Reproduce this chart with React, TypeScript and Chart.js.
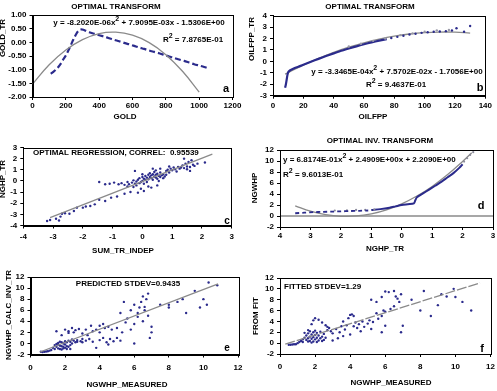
import React, { useEffect, useRef } from "react";
import { Chart, registerables } from "chart.js";

Chart.register(...registerables);

const W = 497;
const H = 391;
const FONT = "'Liberation Sans', Arial, Helvetica, sans-serif";
const BLUE = "#2b2b8c";
const GRAY = "#8a8a8a";

type P = [number, number];

// ---------- Panel a : GOLD ----------
const goldX = [110, 125, 140, 155, 170, 185, 200, 215, 230, 245, 260, 275, 290, 305, 320, 340, 360, 380, 400, 430, 460, 490, 520, 550, 580, 610, 640, 670, 700, 730, 760, 790, 820, 850, 880, 910, 940, 970, 1000, 1030, 1060];
const goldTr = [-1.15, -1.08, -1.0, -0.9, -0.78, -0.62, -0.48, -0.3, -0.1, 0.1, 0.28, 0.42, 0.47, 0.46, 0.42, 0.37, 0.33, 0.3, 0.26, 0.21, 0.15, 0.09, 0.04, -0.02, -0.07, -0.13, -0.19, -0.24, -0.3, -0.35, -0.4, -0.46, -0.52, -0.57, -0.63, -0.68, -0.74, -0.8, -0.85, -0.9, -0.96];
const goldFitX = [0, 100, 200, 300, 400, 500, 600, 700, 800, 900, 1000];
const goldFitY = [-1.53, -0.82, -0.28, 0.1, 0.32, 0.37, 0.26, -0.01, -0.45, -1.06, -1.82];
const goldTicksX = [0, 200, 400, 600, 800, 1000, 1200];
const goldTicksY = [-2, -1.5, -1, -0.5, 0, 0.5, 1];

// ---------- Panel b : OILFPP ----------
const oilX = [8, 8.5, 9, 9.5, 10, 11, 12, 14, 17, 20, 25, 30, 35, 40, 45, 50, 55, 60, 65, 70, 75];
const oilTr = [-2.3, -2.0, -1.6, -1.2, -0.95, -0.8, -0.72, -0.6, -0.45, -0.3, -0.03, 0.22, 0.47, 0.7, 0.93, 1.13, 1.32, 1.5, 1.67, 1.82, 1.95];
const oilPts: P[] = [[78, 2.05], [82, 2.15], [86, 2.25], [90, 2.35], [94, 2.42], [98, 2.5], [102, 2.55], [106, 2.6], [110, 2.62], [114, 2.65], [118, 2.7], [121, 2.9], [126, 2.6], [130, 3.1]];
const oilGrayPts: P[] = [[50, 1.3], [58, 1.55], [66, 1.8], [74, 2.0], [84, 2.3], [92, 2.45], [100, 2.6], [108, 2.72], [116, 2.75]];
const oilFitX = [8, 10, 20, 30, 40, 50, 60, 70, 80, 90, 100, 110, 120, 130];
const oilFitY = [-1.12, -0.98, -0.33, 0.26, 0.79, 1.24, 1.63, 1.95, 2.21, 2.4, 2.52, 2.57, 2.56, 2.48];
const oilTicksX = [0, 20, 40, 60, 80, 100, 120, 140];
const oilTicksY = [-3, -2, -1, 0, 1, 2, 3, 4];

// ---------- Panel c : optimal regression ----------
const regPts: P[] = [
  [-3.2, -3.6], [-3.1, -3.5], [-2.9, -3.4], [-2.8, -3.55], [-2.75, -3.2], [-2.7, -2.95], [-2.6, -2.9], [-2.45, -2.95], [-2.3, -2.7], [-2.2, -2.4],
  [-2.0, -2.4], [-1.9, -2.3], [-1.75, -2.25], [-1.6, -2.1], [-1.45, -1.7], [-1.25, -1.8], [-1.05, -1.5], [-0.85, -1.4], [-0.6, -1.15], [-0.4, -1.0],
  [-1.45, -0.1], [-1.25, -0.3], [-1.1, -0.25], [-0.95, -0.15], [-0.8, -0.3], [-0.7, -0.2], [-0.6, -0.35], [-0.5, -0.1], [-0.45, -0.3], [-0.35, -0.15],
  [-0.3, 0.05], [-0.25, -0.25], [-0.2, -0.05], [-0.2, -0.4], [-0.15, 0.1], [-0.1, -0.2], [-0.1, 0.25], [-0.05, -0.1], [0, 0], [0, 0.35],
  [0.05, -0.25], [0.05, 0.2], [0.1, 0.1], [0.1, 0.45], [0.15, 0.3], [0.15, -0.1], [0.2, 0.55], [0.2, 0.15], [0.25, 0.35], [0.25, 0.7],
  [0.3, 0.25], [0.3, 0.5], [0.35, 0.1], [0.35, 0.6], [0.4, 0.4], [0.4, 0.8], [0.45, 0.3], [0.45, 0.55], [0.5, 0.2], [0.5, 0.65],
  [0.55, 0.45], [0.55, 0], [0.6, 0.35], [0.6, 0.75], [0.65, 0.5], [0.7, 0.25], [0.7, 0.6], [0.75, 0.4], [0.8, 0.55], [0.8, 0.9],
  [0.85, 1.0], [0.9, 0.75], [0.95, 1.1], [1.0, 0.95], [1.05, 1.2], [1.1, 1.05], [1.15, 0.85], [1.2, 1.25], [1.25, 1.1], [1.3, 1.2],
  [1.35, 1.4], [1.4, 1.15], [1.45, 1.55], [1.5, 1.3], [1.5, 1.05], [1.55, 1.7], [1.6, 0.9], [1.6, 1.25], [1.65, 1.85], [1.7, 1.45],
  [1.75, 1.35], [1.85, 1.55], [2.1, 1.65], [-0.05, -0.7], [0.05, -0.9], [-0.15, -1.05], [0.3, -0.6], [0.5, -0.4], [-0.3, -0.55], [0.6, 1.1],
  [0.2, -0.5], [1.4, 2.0], [0.9, 1.3], [-0.25, 0.9], [0.35, 1.1], [0.0, 0.6], [0.45, 0.95], [-0.5, -0.5],
];
const regLineX = [-3.1, 2.35];
const regLineY = [-3.3, 2.4];
const regTicks = [-4, -3, -2, -1, 0, 1, 2, 3];

// ---------- Panel d : optimal inverse transform ----------
const invBlueDashed: P[] = [[-3.5, 0.5], [-3.2, 0.6], [-2.9, 0.7], [-2.6, 0.75], [-2.3, 0.8], [-2.0, 0.85], [-1.7, 0.9], [-1.4, 0.95], [-1.1, 1.0]];
const invBlueSolid: P[] = [[-1.0, 1.1], [-0.7, 1.25], [-0.4, 1.5], [-0.2, 1.75], [0, 2.0], [0.2, 2.15], [0.4, 2.3], [0.45, 2.9], [0.5, 3.4], [0.7, 4.1], [0.9, 4.8], [1.1, 5.5], [1.3, 6.2], [1.5, 7.0], [1.7, 7.8], [1.9, 8.8], [2.0, 9.4]];
const invGrayPts: P[] = [[-2.2, 1.0], [-1.8, 1.05], [-1.5, 1.1], [-1.2, 1.1], [-0.9, 1.15], [2.05, 9.9], [2.15, 10.5], [2.25, 11.1], [2.35, 11.6]];
const invFitX = [-3.5, -3, -2.5, -2, -1.5, -1, -0.5, 0, 0.5, 1, 1.5, 2, 2.3];
const invFitY = [1.84, 0.87, 0.24, -0.05, 0.01, 0.4, 1.13, 2.21, 3.63, 5.38, 7.48, 9.92, 11.5];
const invZeroX = [-4, 3];
const invZeroY = [0, 0];
const invTicksX = [-4, -3, -2, -1, 0, 1, 2, 3];
const wellTicksY = [-2, 0, 2, 4, 6, 8, 10, 12];

// ---------- Panel e : predicted ----------
const predPts: P[] = [
  [0.6, -1.5], [0.7, -1.55], [0.8, -1.5], [0.9, -1.45], [1.0, -1.4], [1.1, -1.3], [1.2, -1.2], [1.3, -0.8], [1.4, -0.3], [1.4, -1.0],
  [1.5, -0.6], [1.6, -0.2], [1.6, 0.1], [1.7, -1.0], [1.7, 0.3], [1.8, -0.5], [1.8, -1.1], [1.9, 0.0], [2.0, -0.8], [2.0, -0.2],
  [2.1, 0.2], [2.1, -1.0], [2.2, -0.6], [2.2, 0.5], [2.3, 0.3], [2.4, 0.0], [2.5, 0.5], [2.6, 0.2], [2.7, 0.6], [2.9, 0.4],
  [3.0, 0.8], [1.5, 2.2], [1.8, 1.5], [2.0, 2.5], [2.2, 2.2], [2.4, 2.8], [2.5, 2.0], [2.6, 2.4], [2.8, 2.6], [3.0, 1.8],
  [3.2, 2.5], [3.3, 1.5], [3.6, 2.2], [3.8, 2.5], [4.0, 2.0], [4.3, 2.8], [4.5, 3.0], [3.5, 3.2], [4.0, 3.2], [4.7, 2.5],
  [5.0, 2.8], [3.2, 0.5], [3.4, 0.8], [3.6, 0.3], [3.8, -0.8], [4.0, 0.6], [4.2, 1.0], [4.4, 0.2], [4.6, 0.8], [4.8, 0.4],
  [5.0, 1.0], [5.2, 0.5], [4.5, -0.2], [3.0, 0.2], [5.2, 5.5], [5.4, 7.5], [5.6, 4.5], [5.8, 6.0], [6.0, 7.0], [6.2, 5.5],
  [6.4, 7.5], [6.5, 4.0], [6.6, 6.0], [6.7, 8.0], [6.8, 5.0], [6.5, 8.5], [6.8, 9.0], [6.3, 6.5], [6.0, 3.5], [5.8, 2.5],
  [6.0, 0.0], [7.0, 2.0], [7.0, 3.0], [6.9, 1.0], [7.5, 7.0], [8.0, 6.5], [8.5, 7.5], [8.8, 8.0], [9.0, 5.5], [9.5, 9.5],
  [9.8, 6.5], [10.0, 8.0], [10.2, 7.0], [10.3, 11.0], [10.8, 10.5], [5.5, 3.8], [5.3, 2.0], [6.2, 4.8], [4.2, 3.5], [2.3, -1.0],
  [1.9, -0.6], [1.6, -0.9], [2.4, 0.7], [2.7, 0.3], [2.2, 1.9], [8.0, 7.0], [6.6, 6.6], [1.7, -0.4], [1.9, -0.9], [2.1, -0.5],
  [1.8, 0.2], [2.0, 0.4], [2.3, -0.3], [1.5, -0.1],
];
const predLineX = [0.55, 10.85];
const predLineY = [-1.55, 10.75];
const measTicksX = [0, 2, 4, 6, 8, 10, 12];

// ---------- Panel f : fitted ----------
const fitPts: P[] = [
  [0.5, -0.3], [0.6, -0.3], [0.7, -0.25], [0.8, -0.2], [0.9, -0.2], [1.0, 0.0], [1.1, 0.2], [1.2, 0.4], [1.3, 0.7], [1.3, 0.2],
  [1.4, 1.0], [1.5, 1.4], [1.5, 0.6], [1.6, 1.8], [1.6, 0.9], [1.7, 2.2], [1.7, 1.2], [1.7, 0.4], [1.8, 1.6], [1.8, 0.8],
  [1.9, 2.0], [1.9, 1.1], [1.9, 0.3], [2.0, 1.5], [2.0, 0.7], [2.0, 2.3], [2.1, 1.0], [2.1, 1.9], [2.2, 0.5], [2.2, 1.4],
  [2.3, 0.9], [2.3, 2.1], [2.4, 1.2], [2.5, 0.6], [2.5, 1.7], [1.6, 2.4], [1.4, 1.9], [2.6, 1.0], [1.8, 3.5], [1.9, 4.2],
  [2.0, 4.6], [2.2, 4.3], [2.4, 3.8], [2.6, 3.3], [2.7, 3.0], [2.8, 2.8], [2.7, 2.4], [2.9, 2.2], [3.0, 1.8], [3.2, 2.6],
  [3.4, 2.0], [3.5, 3.1], [3.6, 4.0], [3.7, 2.5], [3.8, 3.3], [3.9, 4.6], [4.0, 5.2], [4.1, 5.3], [4.2, 5.0], [4.3, 3.8],
  [4.2, 3.1], [4.4, 2.8], [4.5, 3.5], [4.6, 2.2], [4.7, 4.0], [4.8, 3.0], [5.0, 3.6], [5.1, 4.2], [5.2, 2.6], [5.3, 3.9],
  [5.5, 5.5], [5.6, 4.5], [5.8, 5.0], [5.9, 6.0], [6.0, 5.8], [5.8, 2.0], [6.0, 3.2], [6.3, 6.3], [3.0, 0.5], [3.3, 0.9],
  [3.6, 1.3], [4.0, 1.6], [5.2, 8.0], [5.5, 7.6], [5.8, 8.5], [6.0, 9.5], [6.2, 9.4], [6.5, 9.6], [6.6, 8.6], [6.7, 8.2],
  [6.8, 7.6], [6.9, 9.0], [6.9, 2.0], [6.5, 6.8], [7.0, 3.2], [8.0, 6.0], [8.2, 9.6], [8.6, 5.0], [9.0, 7.0], [9.2, 9.0],
  [9.5, 8.6], [9.9, 10.0], [10.0, 8.5], [10.4, 7.6], [10.9, 6.0], [7.5, 8.0], [2.1, 0.2], [1.8, 0.1], [2.4, 0.4], [1.6, 0.3],
];
const fitLineX = [0.3, 11.4];
const fitLineY = [-0.2, 11.1];

// ---------- helpers ----------
const zip = (xs: number[], ys: number[]) => xs.map((x, i) => ({ x, y: ys[i] }));
const pts = (ps: P[]) => ps.map(([x, y]) => ({ x, y }));

const grayLine = (data: any[], extra: any = {}) => ({
  data, showLine: true, pointRadius: 0, borderColor: GRAY, borderWidth: 1.3, tension: 0.4, ...extra,
});
const blueDots = (data: any[], r = 1.3, color = BLUE) => ({
  data, showLine: false, pointRadius: r, pointBackgroundColor: color, pointBorderWidth: 0, borderColor: color,
});
const blueLine = (data: any[], extra: any = {}) => ({
  data, showLine: true, pointRadius: 0, borderColor: BLUE, borderWidth: 2, tension: 0.3, ...extra,
});

type Txt = { t: string; x: number; y: number; align?: "left" | "center" | "right"; size?: number; rot?: boolean };

function drawText(ctx: CanvasRenderingContext2D, t: Txt, ox: number, oy: number) {
  const size = t.size ?? 8;
  const f = `bold ${size}px ${FONT}`;
  const fs = `bold ${Math.round(size * 0.9)}px ${FONT}`;
  ctx.save();
  ctx.fillStyle = "#000";
  ctx.textBaseline = "middle";
  ctx.textAlign = "left";
  ctx.translate(t.x - ox, t.y - oy);
  if (t.rot) ctx.rotate(-Math.PI / 2);
  const parts = t.t.split("^2");
  let total = 0;
  parts.forEach((p, i) => {
    ctx.font = f;
    total += ctx.measureText(p).width;
    if (i < parts.length - 1) {
      ctx.font = fs;
      total += ctx.measureText("2").width;
    }
  });
  const align = t.align ?? "center";
  let x = align === "left" ? 0 : align === "right" ? -total : -total / 2;
  parts.forEach((p, i) => {
    ctx.font = f;
    ctx.fillText(p, x, 0);
    x += ctx.measureText(p).width;
    if (i < parts.length - 1) {
      ctx.font = fs;
      ctx.fillText("2", x, -size * 0.45);
      x += ctx.measureText("2").width;
    }
  });
  ctx.restore();
}

interface AxisSpec { ticks: number[]; fmt?: (v: number) => string; pad: number }
interface PanelSpec {
  box: [number, number, number, number]; // page x, y, w, h of the canvas
  area: [number, number, number, number]; // page left, top, right, bottom of the plot
  x: AxisSpec; y: AxisSpec; datasets: any[]; texts: Txt[];
}

const intFmt = (v: number) => String(Math.round(v));
const fmtOf = (s: AxisSpec) => (v: number) => (s.fmt ? s.fmt(v) : intFmt(v));
const X_AXIS_H = 20;
const TICK_LEN = 3;

// Draws the plot frame, the x tick labels (positioned by the chart's own x scale) and the annotations.
const framePlugin = (p: PanelSpec) => ({
  id: "frameAndText",
  afterDraw(chart: any) {
    const { ctx, chartArea: a } = chart;
    ctx.save();
    ctx.strokeStyle = "#000";
    ctx.lineWidth = 1;
    ctx.strokeRect(Math.round(a.left) + 0.5, Math.round(a.top) + 0.5, Math.round(a.right - a.left), Math.round(a.bottom - a.top));
    const xs = chart.scales.x;
    const f = fmtOf(p.x);
    ctx.fillStyle = "#000";
    ctx.font = `bold 8px ${FONT}`;
    ctx.textAlign = "center";
    ctx.textBaseline = "top";
    p.x.ticks.forEach((v) => {
      ctx.fillText(f(v), xs.getPixelForValue(v), a.bottom + TICK_LEN + p.x.pad);
    });
    ctx.restore();
    p.texts.forEach((t) => drawText(ctx, t, p.box[0], p.box[1]));
  },
});

function makeConfig(p: PanelSpec): any {
  const [bx, by, bw, bh] = p.box;
  const l = p.area[0] - bx;
  const t = p.area[1] - by;
  const r = p.area[2] - bx;
  const b = p.area[3] - by;
  const yAxisW = Math.min(30, Math.floor(l));
  const tickFont = { family: FONT, size: 8, weight: "bold" as const };
  const axis = (s: AxisSpec, horizontal: boolean) => ({
    type: "linear",
    position: horizontal ? "bottom" : "left",
    min: s.ticks[0],
    max: s.ticks[s.ticks.length - 1],
    afterBuildTicks: (sc: any) => {
      sc.ticks = s.ticks.map((v) => ({ value: v }));
    },
    afterFit: (sc: any) => {
      if (horizontal) sc.height = X_AXIS_H;
      else sc.width = yAxisW;
    },
    ticks: {
      display: !horizontal,
      autoSkip: false,
      maxRotation: 0,
      minRotation: 0,
      color: "#000",
      font: tickFont,
      padding: s.pad,
      callback: (v: any) => fmtOf(s)(Number(v)),
    },
    grid: { drawOnChartArea: false, drawTicks: true, tickLength: TICK_LEN, color: "#000", lineWidth: 1 },
    border: { display: true, color: "#000", width: 1 },
  });
  return {
    type: "scatter",
    data: { datasets: p.datasets },
    options: {
      animation: false,
      responsive: false,
      maintainAspectRatio: false,
      devicePixelRatio: 1,
      events: [],
      layout: { padding: { left: l - yAxisW, top: t, right: bw - r, bottom: bh - b - X_AXIS_H } },
      plugins: { legend: { display: false }, tooltip: { enabled: false }, title: { display: false } },
      scales: { x: axis(p.x, true), y: axis(p.y, false) },
    },
    plugins: [framePlugin(p)],
  };
}

function buildPanels(): PanelSpec[] {
  return [
    {
      box: [0, 0, 248, 128],
      area: [32.5, 15, 232.5, 97],
      x: { ticks: goldTicksX, pad: 2 },
      y: { ticks: goldTicksY, pad: 3, fmt: (v) => v.toFixed(2) },
      datasets: [
        grayLine(zip(goldFitX, goldFitY)),
        blueLine(zip(goldX, goldTr), { borderDash: [6, 3], borderWidth: 2.2 }),
      ],
      texts: [
        { t: "OPTIMAL TRANSFORM", x: 116, y: 7 },
        { t: "y = -8.2020E-06x^2 + 7.9095E-03x - 1.5306E+00", x: 139, y: 23 },
        { t: "R^2 = 7.8765E-01", x: 193, y: 40 },
        { t: "a", x: 226, y: 89, size: 11 },
        { t: "GOLD", x: 125, y: 117 },
        { t: "GOLD_TR", x: 3, y: 38, rot: true },
      ],
    },
    {
      box: [248, 0, 249, 128],
      area: [273, 15.7, 485.3, 95.7],
      x: { ticks: oilTicksX, pad: 3 },
      y: { ticks: oilTicksY, pad: 3 },
      datasets: [
        blueDots(pts(oilGrayPts), 1.2, "#9a9aa8"),
        blueLine(zip(oilX, oilTr), { borderWidth: 2.2, tension: 0.2 }),
        blueDots(pts(oilPts), 1.2),
        grayLine(zip(oilFitX, oilFitY)),
      ],
      texts: [
        { t: "OPTIMAL TRANSFORM", x: 370, y: 7 },
        { t: "y = -3.3465E-04x^2 + 7.5702E-02x - 1.7056E+00", x: 397, y: 72 },
        { t: "R^2 = 9.4637E-01", x: 396, y: 85 },
        { t: "b", x: 480, y: 88, size: 11 },
        { t: "OILFPP", x: 373, y: 117 },
        { t: "OILFPP_TR", x: 252, y: 39, rot: true },
      ],
    },
    {
      box: [0, 128, 248, 130],
      area: [23.3, 147.5, 231.7, 225.5],
      x: { ticks: regTicks, pad: 4 },
      y: { ticks: regTicks, pad: 3 },
      datasets: [
        grayLine(zip(regLineX, regLineY), { tension: 0 }),
        blueDots(pts(regPts), 1.2),
      ],
      texts: [
        { t: "OPTIMAL REGRESSION, CORREL:  0.95539", x: 33, y: 153, align: "left" },
        { t: "c", x: 227, y: 221, size: 10 },
        { t: "SUM_TR_INDEP", x: 123, y: 251 },
        { t: "NGHP_TR", x: 3, y: 179, rot: true },
      ],
    },
    {
      box: [248, 128, 249, 130],
      area: [280, 150, 493, 227],
      x: { ticks: invTicksX, pad: 2, fmt: (v) => String(Math.abs(Math.round(v))) },
      y: { ticks: wellTicksY, pad: 3 },
      datasets: [
        grayLine(zip(invZeroX, invZeroY), { tension: 0 }),
        blueLine(pts(invBlueDashed), { borderDash: [4, 3], borderWidth: 1.8 }),
        blueDots(pts(invGrayPts), 1.1, "#8a8a9a"),
        blueLine(pts(invBlueSolid), { borderWidth: 2 }),
        grayLine(zip(invFitX, invFitY)),
      ],
      texts: [
        { t: "OPTIMAL INV. TRANSFORM", x: 380, y: 141 },
        { t: "y = 6.8174E-01x^2 + 2.4909E+00x + 2.2090E+00", x: 283, y: 160, align: "left" },
        { t: "R^2 = 9.6013E-01", x: 283, y: 175, align: "left" },
        { t: "d", x: 481, y: 206, size: 11 },
        { t: "NGHP_TR", x: 385, y: 249 },
        { t: "NGWHP", x: 255, y: 188, rot: true },
      ],
    },
    {
      box: [0, 258, 248, 133],
      area: [30.5, 277, 238, 354.5],
      x: { ticks: measTicksX, pad: 6 },
      y: { ticks: wellTicksY, pad: 3 },
      datasets: [
        grayLine(zip(predLineX, predLineY), { tension: 0 }),
        blueDots(pts(predPts), 1.2),
      ],
      texts: [
        { t: "PREDICTED STDEV=0.9435", x: 128, y: 284 },
        { t: "e", x: 227, y: 348, size: 10 },
        { t: "NGWHP_MEASURED", x: 127, y: 385 },
        { t: "NGWHP_CALC_INV_TR", x: 9, y: 315, rot: true },
      ],
    },
    {
      box: [248, 258, 249, 133],
      area: [280, 278, 490.5, 354],
      x: { ticks: measTicksX, pad: 6 },
      y: { ticks: wellTicksY, pad: 3 },
      datasets: [
        grayLine(zip(fitLineX, fitLineY), { tension: 0, borderDash: [10, 2] }),
        blueDots(pts(fitPts), 1.2),
      ],
      texts: [
        { t: "FITTED STDEV=1.29", x: 284, y: 287, align: "left" },
        { t: "f", x: 482, y: 349, size: 11 },
        { t: "NGWHP_MEASURED", x: 391, y: 383 },
        { t: "FROM FIT", x: 256, y: 316, rot: true },
      ],
    },
  ];
}

const PANELS = buildPanels();

export default function App() {
  const refs = useRef<(HTMLCanvasElement | null)[]>([]);
  useEffect(() => {
    const charts = PANELS.map((p, i) => {
      const c = refs.current[i];
      return c ? new Chart(c, makeConfig(p)) : null;
    });
    return () => charts.forEach((c) => c && c.destroy());
  }, []);
  return (
    <div style={{ position: "absolute", left: 0, top: 0, width: W, height: H, background: "#fff", overflow: "hidden" }}>
      {PANELS.map((p, i) => (
        <canvas
          key={i}
          ref={(el) => { refs.current[i] = el; }}
          width={p.box[2]}
          height={p.box[3]}
          style={{ position: "absolute", left: p.box[0], top: p.box[1], width: p.box[2], height: p.box[3], display: "block" }}
        />
      ))}
    </div>
  );
}
